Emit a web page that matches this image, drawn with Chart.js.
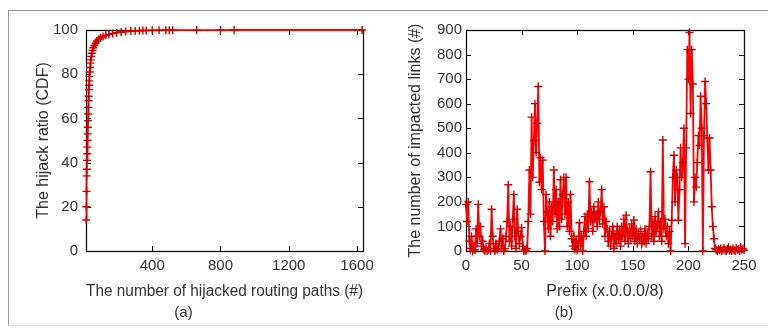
<!DOCTYPE html>
<html>
<head>
<meta charset="utf-8">
<script src="https://cdn.jsdelivr.net/npm/chart.js@4/dist/chart.umd.min.js"></script>
<style>
    body { margin: 0; background: #fff; width: 768px; height: 334px; overflow: hidden; position: relative; }
    #frame { position: absolute; left: 8px; top: 10px; width: 780px; height: 314px; border-left: 1px solid #9a9a9a; border-top: 1px solid #9a9a9a; border-bottom: 1px solid #e4e4e4; }
    canvas { position: absolute; top: 0; }
    #cdf-chart { left: 0; }
    #links-chart { left: 384px; }
</style>
</head>
<body>
<div id="frame"></div>
<canvas id="cdf-chart" width="380" height="334"></canvas>
<canvas id="links-chart" width="384" height="334"></canvas>
<script>
// (a) CDF of hijacked routing paths
const hijackedPaths = [13, 14, 15, 16, 17, 18, 19, 20, 21, 22, 23, 24, 25, 26, 27, 28, 29, 30, 31, 32,
    34, 36, 38, 40, 43, 46, 50, 55, 61, 68, 76, 86, 98, 112, 128, 146, 168, 192, 218, 245,
    275, 300, 325, 345, 365, 400, 440, 480, 500, 520, 660, 800, 880, 1630]
const hijackRatio = [14, 20, 27, 34, 37, 41, 44, 47, 50, 53, 56, 59, 62, 65, 68, 70, 73, 75, 77, 79,
    81, 83, 85, 86.5, 88, 89.5, 90.8, 92, 93, 94, 95, 95.8, 96.5, 97.1, 97.6, 98, 98.4, 98.8, 99.1, 99.3,
    99.5, 99.6, 99.7, 99.75, 99.8, 99.85, 99.88, 99.9, 99.92, 99.94, 99.96, 99.98, 99.99, 100]
const hijackXTicks = [400, 800, 1200, 1600]

// (b) impacted links per /8 prefix, index = prefix 0..250
const prefixTicks = [0, 50, 100, 150, 200, 250]
const impactedLinks = [
    190, 120, 200, 40, 10, 60, 0, 20, 5, 90,
    30, 190, 60, 100, 20, 40, 5, 0, 10, 0,
    5, 30, 0, 170, 60, 10, 0, 30, 5, 10,
    40, 90, 20, 50, 0, 10, 60, 120, 270, 40,
    100, 20, 130, 230, 60, 10, 170, 80, 30, 60,
    95, 20, 0, 5, 0, 10, 120, 330, 150, 545,
    300, 450, 600, 400, 520, 670, 280, 380, 250, 370,
    120, 0, 230, 160, 90, 200, 60, 180, 120, 330,
    150, 250, 90, 200, 100, 290, 130, 230, 300, 150,
    300, 100, 200, 80, 230, 50, 20, 60, 10, 40,
    5, 30, 115, 20, 60, 0, 80, 140, 60, 150,
    90, 282, 120, 160, 80, 180, 130, 150, 100, 200,
    130, 160, 250, 110, 180, 60, 120, 90, 40, 80,
    20, 60, 100, 10, 70, 30, 100, 50, 80, 20,
    100, 60, 130, 40, 146, 80, 30, 90, 50, 110,
    60, 126, 40, 90, 30, 70, 50, 80, 30, 60,
    40, 90, 30, 70, 50, 100, 323, 60, 120, 40,
    140, 80, 100, 160, 60, 120, 40, 452, 90, 130,
    60, 100, 30, 80, 0, 125, 300, 390, 200, 330,
    300, 125, 250, 420, 300, 360, 500, 30, 420, 820,
    700, 890, 560, 820, 680, 200, 300, 260, 360, 470,
    430, 630, 500, 0, 470, 690, 600, 460, 330, 460,
    330, 180, 100, 50, 10, 5, 0, 8, 3, 10,
    0, 5, 12, 3, 0, 8, 15, 2, 6, 0,
    10, 4, 0, 12, 5, 8, 0, 15, 5, 10,
    3
]

const FONT = 'Liberation Sans, Arial, sans-serif'
const TEXT = '#333'

// gnuplot-like box with inward ticks on all four sides
const boxTicks = {
    id: 'boxTicks',
    beforeDatasetsDraw(chart) {
        const { ctx, chartArea: a, scales } = chart
        const len = 5
        ctx.save()
        ctx.strokeStyle = '#111'
        ctx.lineWidth = 1
        ctx.beginPath()
        scales.x.ticks.forEach(t => {
            const px = Math.round(scales.x.getPixelForValue(t.value)) + 0.5
            ctx.moveTo(px, a.bottom); ctx.lineTo(px, a.bottom - len)
            ctx.moveTo(px, a.top); ctx.lineTo(px, a.top + len)
        })
        scales.y.ticks.forEach(t => {
            const py = Math.round(scales.y.getPixelForValue(t.value)) + 0.5
            ctx.moveTo(a.left, py); ctx.lineTo(a.left + len, py)
            ctx.moveTo(a.right, py); ctx.lineTo(a.right - len, py)
        })
        ctx.stroke()
        ctx.lineWidth = 1.3
        ctx.strokeRect(Math.round(a.left) + 0.5, Math.round(a.top) + 0.5, Math.round(a.right - a.left), Math.round(a.bottom - a.top))
        ctx.restore()
    }
}

function makeOptions(cfg) {
    return {
        responsive: false,
        animation: false,
        devicePixelRatio: 1,
        layout: { padding: { left: 0, right: cfg.padRight, top: 30, bottom: 0 } },
        plugins: {
            legend: { display: false },
            tooltip: { enabled: false },
            title: {
                display: true,
                position: 'bottom',
                text: cfg.caption,
                color: TEXT,
                font: { family: FONT, size: 15, weight: 'normal' },
                padding: { top: 0, bottom: 12 }
            }
        },
        scales: {
            x: {
                type: 'linear',
                min: cfg.xMin,
                max: cfg.xMax,
                afterFit: s => { s.height = 53 },
                afterBuildTicks: s => { s.ticks = cfg.xTicks.map(v => ({ value: v })) },
                grid: { display: false, drawTicks: false },
                border: { display: false },
                ticks: { color: TEXT, padding: 6, maxRotation: 0, font: { family: FONT, size: 15 }, callback: v => String(v) },
                title: {
                    display: true,
                    text: cfg.xTitle,
                    color: TEXT,
                    font: { family: FONT, size: 16 },
                    padding: { top: 0, bottom: 3 }
                }
            },
            y: {
                min: 0,
                max: cfg.yMax,
                afterFit: s => { s.width = cfg.yWidth },
                grid: { display: false, drawTicks: false },
                border: { display: false },
                ticks: { color: TEXT, stepSize: cfg.yStep, padding: cfg.yPad, font: { family: FONT, size: 15 }, callback: v => String(v) },
                title: {
                    display: true,
                    text: cfg.yTitle,
                    color: TEXT,
                    font: { family: FONT, size: 16 },
                    padding: { top: cfg.yTitlePad, bottom: 0 }
                }
            }
        }
    }
}

const lineStyle = {
    borderColor: '#ff0000',
    borderWidth: 1.8,
    pointStyle: 'cross',
    pointRadius: 4,
    pointBorderWidth: 1.4,
    pointBorderColor: '#d40000',
    pointBackgroundColor: '#d40000',
    tension: 0,
    clip: 6
}

new Chart(document.getElementById('cdf-chart'), {
    type: 'line',
    data: {
        datasets: [{
            ...lineStyle,
            data: hijackedPaths.map((x, i) => ({ x, y: hijackRatio[i] }))
        }]
    },
    options: makeOptions({
        padRight: 13, caption: '(a)',
        xMin: 12, xMax: 1635, xTicks: hijackXTicks,
        xTitle: 'The number of hijacked routing paths (#)',
        yMax: 100, yStep: 20, yWidth: 86, yPad: 8, yTitlePad: 34,
        yTitle: 'The hijack ratio (CDF)'
    }),
    plugins: [boxTicks]
})

new Chart(document.getElementById('links-chart'), {
    type: 'line',
    data: {
        datasets: [{
            ...lineStyle,
            data: impactedLinks.map((y, prefix) => ({ x: prefix, y }))
        }]
    },
    options: makeOptions({
        padRight: 24, caption: '(b)',
        xMin: 0, xMax: 250, xTicks: prefixTicks,
        xTitle: 'Prefix (x.0.0.0/8)',
        yMax: 900, yStep: 100, yWidth: 82, yPad: 4, yTitlePad: 22,
        yTitle: 'The number of impacted links (#)'
    }),
    plugins: [boxTicks]
})
</script>
</body>
</html>
